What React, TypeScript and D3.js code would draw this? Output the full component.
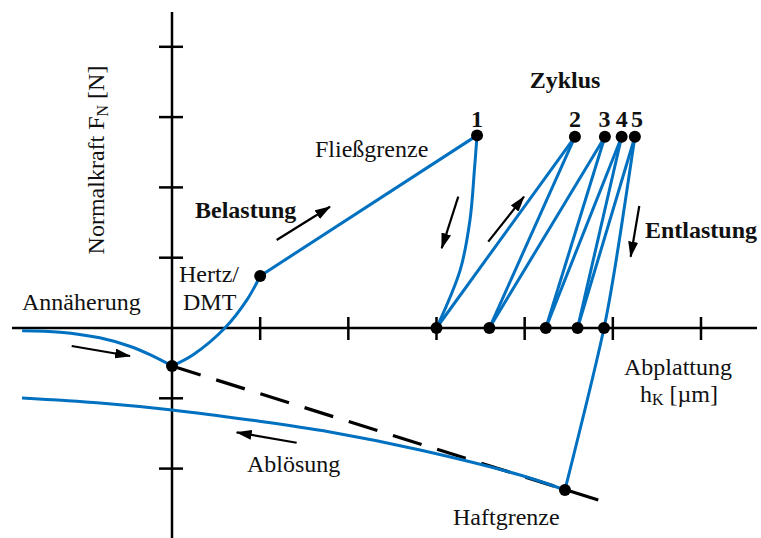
import React from "react";
import * as d3 from "d3";

// Schematic values in axis units (one x tick = 1, one y tick = 1)
const approach = [
  [-1.7, -0.04], [-1.27, -0.06], [-0.82, -0.14], [-0.48, -0.26], [-0.25, -0.38], [0, -0.54],
];
const hertz = [[0, -0.54], [0.24, -0.38], [0.6, 0], [0.85, 0.4], [1, 0.74]];
const plastic = [[1, 0.74], [3.46, 2.74]];
const unload1 = [[3.46, 2.74], [3.43, 2.25], [3.38, 1.54], [3.27, 0.83], [3.0, 0]];
const peaksX = [3.46, 4.57, 4.91, 5.1, 5.25];
const peaksY = [2.74, 2.72, 2.72, 2.72, 2.72];
const residualX = [3.0, 3.6, 4.24, 4.6, 4.9];
const unload5 = [[5.25, 2.72], [5.02, 0.83], [4.9, 0], [4.457, -2.304]];
const detach = [
  [4.457, -2.304], [3.947, -2.091], [2.813, -1.735], [1.792, -1.479],
  [0.885, -1.309], [0, -1.166], [-0.817, -1.067], [-1.701, -0.996],
];
const adhesionLine = [[0, -0.54], [4.835, -2.447]];
const snapIn = [0, -0.54];
const hertzPoint = [1, 0.74];
const pullOff = [4.457, -2.304];
const cycleLabels = ["1", "2", "3", "4", "5"];
const labelShift = [0, 0, -0.5, 0, 2];
const xTicks = [1, 2, 3, 4, 5, 6];
const yTicks = [-2, -1, 1, 2, 3, 4];

// direction arrows [from, to]
const arrows = [
  [[-1.138, -0.256], [-0.476, -0.398]],
  [[1.187, 1.252], [1.792, 1.725]],
  [[3.247, 1.868], [3.059, 1.134]],
  [[3.587, 1.228], [3.992, 1.868]],
  [[5.3, 1.735], [5.202, 1.014]],
  [[1.414, -1.632], [0.734, -1.484]],
];

const W = 761;
const H = 538;
const blue = "#0070c0";
const font = "'Liberation Serif', 'Times New Roman', serif";

export default function App() {
  const x = d3.scaleLinear().domain([0, 6]).range([172, 701]);
  const y = d3.scaleLinear().domain([0, 4]).range([328, 46.8]);

  const line = d3.line<number[]>().x((d) => x(d[0])).y((d) => y(d[1]));
  const smooth = d3
    .line<number[]>()
    .x((d) => x(d[0]))
    .y((d) => y(d[1]))
    .curve(d3.curveCatmullRom.alpha(0.5));

  // reloading / unloading segments of cycles 2..5
  const cycleSegs: number[][][] = [];
  for (let i = 1; i < 5; i++) {
    cycleSegs.push([[residualX[i - 1], 0], [peaksX[i], peaksY[i]]]);
    if (i < 4) cycleSegs.push([[peaksX[i], peaksY[i]], [residualX[i], 0]]);
  }

  const dots = [
    snapIn,
    hertzPoint,
    pullOff,
    ...peaksX.map((px, i) => [px, peaksY[i]]),
    ...residualX.map((rx) => [rx, 0]),
  ];

  // dashed adhesion line: 10 dashes from the snap-in point to the end
  const dx = x(adhesionLine[1][0]) - x(adhesionLine[0][0]);
  const dy = y(adhesionLine[1][1]) - y(adhesionLine[0][1]);
  const len = Math.hypot(dx, dy);
  const dash = 30;
  const gap = (len - 10 * dash) / 9;

  const txt = { fontFamily: font, fontSize: 24, fill: "#111" };
  const bold = { ...txt, fontWeight: "bold" as const };

  return (
    <svg
      width={W}
      height={H}
      style={{ position: "absolute", left: 0, top: 0, background: "#fff" }}
    >
      <defs>
        <marker
          id="ah"
          viewBox="0 0 16 10"
          markerWidth={16}
          markerHeight={10}
          refX={15}
          refY={5}
          orient="auto"
          markerUnits="userSpaceOnUse"
        >
          <path d="M0,0 L16,5 L0,10 Z" fill="#000" />
        </marker>
      </defs>

      {/* axes */}
      <g stroke="#000" strokeWidth={2.5}>
        <line x1={12} x2={757} y1={y(0)} y2={y(0)} />
        <line x1={x(0)} x2={x(0)} y1={12} y2={H} />
        {xTicks.map((t) => (
          <line key={"xt" + t} x1={x(t)} x2={x(t)} y1={y(0) - 11} y2={y(0) + 12} />
        ))}
        {yTicks.map((t) => (
          <line key={"yt" + t} x1={x(0) - 13} x2={x(0) + 11} y1={y(t)} y2={y(t)} />
        ))}
      </g>

      {/* adhesion limit (dashed) */}
      <path
        d={line(adhesionLine) || ""}
        fill="none"
        stroke="#000"
        strokeWidth={3.2}
        strokeDasharray={`${dash} ${gap}`}
      />

      {/* curves */}
      <g fill="none" stroke={blue} strokeWidth={3} strokeLinejoin="round">
        <path d={smooth(approach) || ""} />
        <path d={smooth(hertz) || ""} />
        <path d={line(plastic) || ""} />
        <path d={smooth(unload1) || ""} />
        {cycleSegs.map((s, i) => (
          <path key={"c" + i} d={line(s) || ""} />
        ))}
        <path d={smooth(unload5) || ""} />
        <path d={smooth(detach) || ""} />
      </g>

      {/* points */}
      {dots.map((d, i) => (
        <circle key={"d" + i} cx={x(d[0])} cy={y(d[1])} r={6} fill="#000" />
      ))}

      {/* arrows */}
      <g stroke="#000" strokeWidth={2.2}>
        {arrows.map((a, i) => (
          <line
            key={"a" + i}
            x1={x(a[0][0])}
            y1={y(a[0][1])}
            x2={x(a[1][0])}
            y2={y(a[1][1])}
            markerEnd="url(#ah)"
          />
        ))}
      </g>

      {/* labels */}
      <text
        {...txt}
        textAnchor="middle"
        transform="translate(104,160) rotate(-90)"
      >
        Normalkraft F
        <tspan fontSize={16} dy={4}>N</tspan>
        <tspan dy={-4}> [N]</tspan>
      </text>
      <text {...txt} x={22} y={310}>Annäherung</text>
      <text {...txt} x={179} y={282}>
        Hertz/
        <tspan x={183} dy={28}>DMT</tspan>
      </text>
      <text {...bold} x={195} y={218}>Belastung</text>
      <text {...txt} x={315} y={157}>Fließgrenze</text>
      <text {...bold} x={565} y={88} textAnchor="middle">Zyklus</text>
      {cycleLabels.map((c, i) => (
        <text
          key={"n" + c}
          {...bold}
          x={x(peaksX[i]) + labelShift[i]}
          y={127}
          textAnchor="middle"
        >
          {c}
        </text>
      ))}
      <text {...bold} x={645} y={238}>Entlastung</text>
      <text {...txt} x={678} y={375} textAnchor="middle">Abplattung</text>
      <text {...txt} x={679} y={402} textAnchor="middle">
        h<tspan fontSize={16} dy={3}>K</tspan>
        <tspan dy={-3}> [µm]</tspan>
      </text>
      <text {...txt} x={247} y={472}>Ablösung</text>
      <text {...txt} x={453} y={525}>Haftgrenze</text>
    </svg>
  );
}
